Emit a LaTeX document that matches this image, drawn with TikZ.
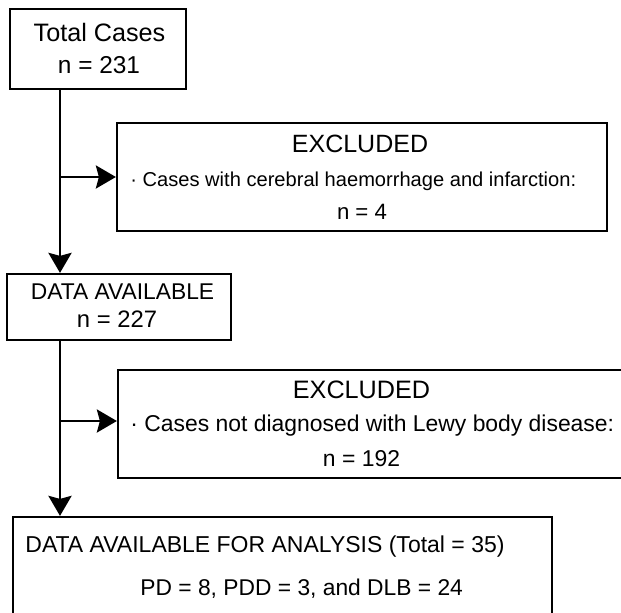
\documentclass[tikz,border=0pt]{standalone}
\usepackage{fontspec}
\setmainfont{Liberation Sans}
\usetikzlibrary{arrows.meta}
\tikzset{
    box/.style={draw, line width=1.1pt, inner sep=0pt},
    lbl/.style={inner sep=0pt, font=\fontsize{#1}{#1}\selectfont},
    flow/.style={line width=1.4pt, -{Stealth[length=10pt,width=11.5pt,inset=1.5pt]}},
}
\begin{document}
\begin{tikzpicture}[x=0.5pt, y=-0.5pt]
    \clip (0,0) rectangle (621,613);

    \node[box, minimum width=88pt, minimum height=40pt] (total) at (98,49) {};
    \node[lbl=12.6, anchor=base] (totalA) at (99.5,42) {Total Cases};
    \node[lbl=12.2, anchor=base] (totalB) at (99,74) {n = 231};

    \node[box, minimum width=245pt, minimum height=54pt] (excl1) at (362,177) {};
    \node[lbl=12.5, anchor=base] (excl1A) at (360,153) {EXCLUDED};
    \node[lbl=10.05, anchor=base west] (excl1B) at (130,187) {· Cases with cerebral haemorrhage and infarction:};
    \node[lbl=11.1, anchor=base] (excl1C) at (362,220) {n = 4};

    \node[box, minimum width=112pt, minimum height=33pt] (avail) at (119,307) {};
    \node[lbl=11.4, anchor=base] (availA) at (122.5,300) {DATA AVAILABLE};
    \node[lbl=11.9, anchor=base] (availB) at (117,328) {n = 227};

    \node[box, minimum width=261pt, minimum height=54pt] (excl2) at (379,424) {};
    \node[lbl=12.6, anchor=base] (excl2A) at (361.5,399) {EXCLUDED};
    \node[lbl=11.45, anchor=base west] (excl2B) at (130,432) {· Cases not diagnosed with Lewy body disease:};
    \node[lbl=11.45, anchor=base] (excl2C) at (361.5,467) {n = 192};

    \node[box, minimum width=269.5pt, minimum height=56.5pt] (final) at (282.5,573.5) {};
    \node[lbl=11.5, anchor=base west] (finalA) at (25,553) {DATA AVAILABLE FOR ANALYSIS (Total = 35)};
    \node[lbl=11.4, anchor=base west] (finalB) at (140,596) {PD = 8, PDD = 3, and DLB = 24};

    \coordinate (j1) at (60,177);
    \coordinate (j2) at (60,421);

    \draw[flow] (j1 |- total.south) -- (j1 |- avail.north);
    \draw[flow] (j1) -- (excl1.west |- j1);
    \draw[flow] (j2 |- avail.south) -- (j2 |- final.north);
    \draw[flow] (j2) -- (excl2.west |- j2);
\end{tikzpicture}
\end{document}
